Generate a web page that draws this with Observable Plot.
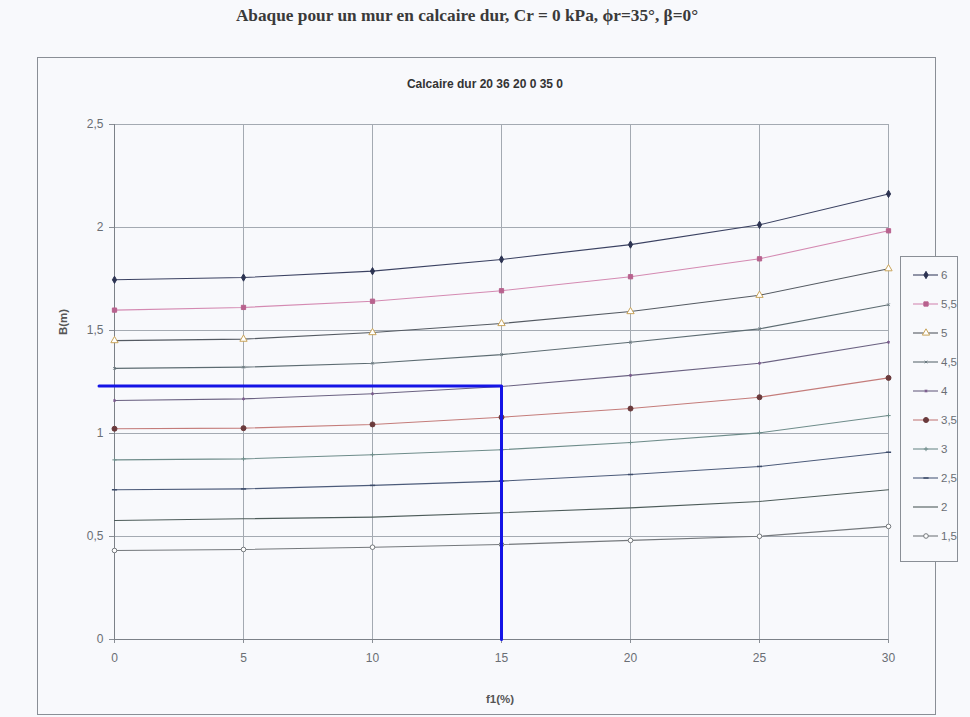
<!DOCTYPE html>
<html>
<head>
<meta charset="utf-8">
<script src="https://cdn.jsdelivr.net/npm/d3@7"></script>
<script src="https://cdn.jsdelivr.net/npm/@observablehq/plot@0.6"></script>
<style>
  html, body { margin: 0; padding: 0; background: #f8f9fc; }
  #wrap { position: relative; width: 970px; height: 717px; overflow: hidden; }
  #title { position: absolute; left: -18px; top: 6px; width: 970px; text-align: center;
    font-family: "Liberation Serif", "DejaVu Serif", serif; font-weight: bold; font-size: 17.3px; color: #3a3a3a; }
  #frame { position: absolute; left: 37px; top: 57px; width: 899px; height: 658px;
    border: 1px solid #8a8f96; box-sizing: border-box; }
  #subtitle { position: absolute; left: 0; top: 77px; width: 970px; text-align: center;
    font-family: "Liberation Sans", Arial, sans-serif; font-weight: bold; font-size: 12px; color: #333; }
  #ylabel { position: absolute; left: 50px; top: 316px; transform: rotate(-90deg); transform-origin: center;
    font-family: "Liberation Sans", Arial, sans-serif; font-weight: bold; font-size: 11.5px; color: #555; }
  #xlabel { position: absolute; left: 486px; top: 693px;
    font-family: "Liberation Sans", Arial, sans-serif; font-weight: bold; font-size: 11.5px; color: #555; }
  #chart { position: absolute; left: 0; top: 0; }
  #legend { position: absolute; left: 900px; top: 256px; }
</style>
</head>
<body>
<div id="wrap">
  <div id="frame"></div>
  <div id="title">Abaque pour un mur en calcaire dur, Cr = 0 kPa, ϕr=35°, β=0°</div>
  <div id="subtitle">Calcaire dur 20 36 20 0 35 0</div>
  <div id="chart"></div>
  <div id="ylabel">B(m)</div>
  <div id="xlabel">f1(%)</div>
  <div id="legend"></div>
</div>
<script>
// ---- data ----
const f1 = [0, 5, 10, 15, 20, 25, 30];
const seriesNames = ["6", "5,5", "5", "4,5", "4", "3,5", "3", "2,5", "2", "1,5"];
const b6   = [1.746, 1.757, 1.788, 1.845, 1.917, 2.013, 2.163];
const b5_5 = [1.599, 1.612, 1.642, 1.693, 1.761, 1.848, 1.984];
const b5   = [1.451, 1.458, 1.490, 1.534, 1.592, 1.671, 1.800];
const b4_5 = [1.316, 1.322, 1.341, 1.383, 1.443, 1.508, 1.625];
const b4   = [1.160, 1.168, 1.193, 1.228, 1.282, 1.341, 1.443];
const b3_5 = [1.023, 1.026, 1.044, 1.079, 1.121, 1.176, 1.270];
const b3   = [0.872, 0.877, 0.897, 0.921, 0.956, 1.003, 1.087];
const b2_5 = [0.727, 0.731, 0.748, 0.769, 0.801, 0.840, 0.909];
const b2   = [0.578, 0.586, 0.594, 0.615, 0.639, 0.670, 0.727];
const b1_5 = [0.432, 0.437, 0.448, 0.461, 0.481, 0.501, 0.549];
const seriesValues = [b6, b5_5, b5, b4_5, b4, b3_5, b3, b2_5, b2, b1_5];
const xTicks = [0, 5, 10, 15, 20, 25, 30];
const yTicks = [0, 0.5, 1, 1.5, 2, 2.5];
// blue reading lines (B = 1.23 m for f1 = 15 %)
const readX = [-0.6, 15, 15];
const readY = [1.23, 1.23, 0];

// ---- styles ----
const dashSymbol = {draw(ctx, size) { const r = Math.sqrt(size / Math.PI); ctx.moveTo(-r, 0); ctx.lineTo(r, 0); }};
const styles = [
  {line: "#3b4262", mark: "#2c3352", symbol: "diamond", fill: true, r: 2.2},
  {line: "#d48ab2", mark: "#b8628e", symbol: "square", fill: true, r: 2.4},
  {line: "#545a62", mark: "#c9a45a", symbol: "triangle", fill: false, r: 2.7},
  {line: "#5d6c72", mark: "#6a7a80", symbol: "times", fill: false, r: 1.3},
  {line: "#6b6282", mark: "#7a5a8c", symbol: "asterisk", fill: false, r: 1.5},
  {line: "#c47c7a", mark: "#6a3a3c", symbol: "circle", fill: true, r: 2.5},
  {line: "#6e8c8a", mark: "#6e8c8a", symbol: "plus", fill: false, r: 1.5},
  {line: "#4c5b7a", mark: "#3c4b6a", symbol: "dash", fill: false, r: 2.6},
  {line: "#4d5c5a", mark: null, symbol: null, fill: false, r: 0},
  {line: "#74787c", mark: "#74787c", symbol: "circle", fill: false, r: 2.3}
];

const fmt = d => String(d).replace(".", ",");
const fillOf = st => st.fill ? st.mark : (st.symbol === "circle" || st.symbol === "triangle" ? "#ffffff" : "none");

const data = [];
seriesNames.forEach((s, i) => f1.forEach((x, j) => data.push({s, i, x, y: seriesValues[i][j]})));
const blue = readX.map((x, k) => ({x, y: readY[k]}));

const marks = [
  Plot.gridX(xTicks, {stroke: "#a4aab2", strokeOpacity: 1, strokeWidth: 1}),
  Plot.gridY(yTicks, {stroke: "#a4aab2", strokeOpacity: 1, strokeWidth: 1}),
  Plot.axisX({ticks: xTicks, tickFormat: fmt, tickSize: 4, tickPadding: 10, stroke: "#8a8f96",
    fill: "#6a6e74", fontSize: 12, label: null}),
  Plot.axisY({ticks: yTicks, tickFormat: fmt, tickSize: 5, tickPadding: 6, stroke: "#8a8f96",
    fill: "#6a6e74", fontSize: 12, label: null}),
  Plot.ruleX([0], {stroke: "#7c8188"}),
  Plot.ruleY([0], {stroke: "#7c8188"})
];

seriesNames.forEach((s, i) => {
  const st = styles[i];
  const d = data.filter(e => e.i === i);
  marks.push(Plot.line(d, {x: "x", y: "y", stroke: st.line, strokeWidth: 1.1}));
  if (st.symbol) {
    marks.push(Plot.dot(d, {x: "x", y: "y", symbol: st.symbol === "dash" ? dashSymbol : st.symbol, r: st.r,
      fill: fillOf(st), stroke: st.mark, strokeWidth: st.symbol === "dash" ? 1.5 : 1}));
  }
});
marks.push(Plot.line(blue, {x: "x", y: "y", stroke: "#1414e6", strokeWidth: 3}));

const chart = Plot.plot({
  width: 970, height: 717,
  marginLeft: 114, marginRight: 82, marginTop: 124, marginBottom: 78,
  x: {type: "linear", domain: [0, 30]},
  y: {type: "linear", domain: [0, 2.5]},
  style: {background: "transparent", fontFamily: "Liberation Sans, Arial, sans-serif", fontSize: "12px", color: "#6a6e74"},
  marks
});
document.getElementById("chart").appendChild(chart);

// ---- legend ----
const lw = 58, lh = 306;
const leg = d3.select("#legend").append("svg").attr("width", lw).attr("height", lh);
leg.append("rect").attr("x", 0.5).attr("y", 0.5).attr("width", lw - 1).attr("height", lh - 1)
  .attr("fill", "#f8f9fc").attr("stroke", "#8a8f96");
const symMap = {diamond: d3.symbolDiamond, square: d3.symbolSquare, triangle: d3.symbolTriangle,
  times: d3.symbolTimes, asterisk: d3.symbolAsterisk, circle: d3.symbolCircle, plus: d3.symbolPlus, dash: dashSymbol};
seriesNames.forEach((s, i) => {
  const st = styles[i];
  const cy = 19 + i * 29;
  const g = leg.append("g").attr("transform", `translate(0,${cy})`);
  g.append("line").attr("x1", 13).attr("x2", 38).attr("y1", 0).attr("y2", 0)
    .attr("stroke", st.line).attr("stroke-width", 1.1);
  if (st.symbol) {
    const sym = symMap[st.symbol] || d3.symbolCircle;
    const size = Math.PI * st.r * st.r;
    g.append("path").attr("transform", "translate(26,0)")
      .attr("d", d3.symbol(sym, size)())
      .attr("fill", fillOf(st))
      .attr("stroke", st.mark).attr("stroke-width", st.symbol === "dash" ? 1.5 : 1);
  }
  g.append("text").attr("x", 41).attr("y", 4).text(s)
    .attr("font-family", "Liberation Sans, Arial, sans-serif").attr("font-size", 11.5).attr("fill", "#6a6e74");
});
</script>
</body>
</html>
